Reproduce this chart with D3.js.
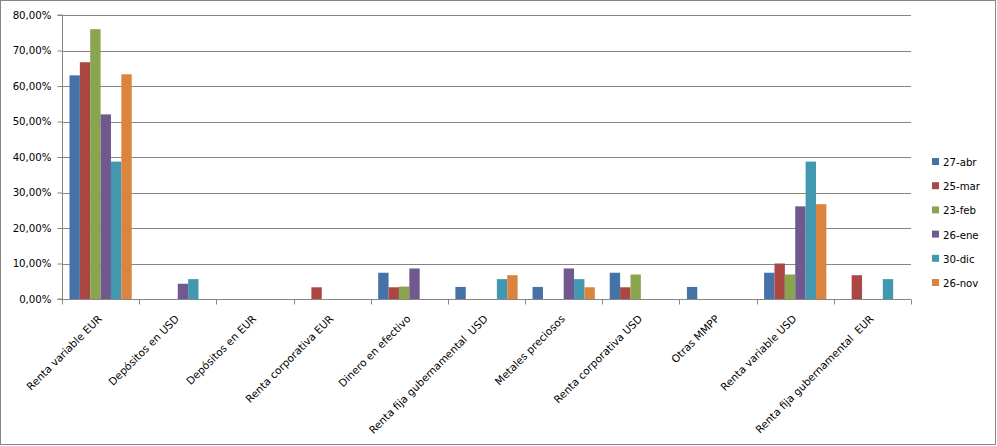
<!DOCTYPE html>
<html><head><meta charset="utf-8">
<script src="https://cdn.jsdelivr.net/npm/d3@7"></script>
<style>body{margin:0;background:#fff}svg{display:block}text{font-family:"DejaVu Sans",Verdana,sans-serif;fill:#000}</style>
</head><body><svg id="c" width="997" height="446"></svg>
<script>
const categories = ["Renta variable EUR","Depósitos en USD","Depósitos en EUR","Renta corporativa EUR","Dinero en efectivo","Renta fija gubernamental  USD","Metales preciosos","Renta corporativa USD","Otras MMPP","Renta variable USD","Renta fija gubernamental  EUR"];
const seriesNames = ["27-abr","25-mar","23-feb","26-ene","30-dic","26-nov"];
const s27abr = [63.0, 0, 0, 0, 7.4, 3.4, 3.4, 7.4, 3.4, 7.4, 0];
const s25mar = [66.7, 0, 0, 3.3, 3.3, 0, 0, 3.3, 0, 10.0, 6.7];
const s23feb = [76.0, 0, 0, 0, 3.5, 0, 0, 6.9, 0, 6.9, 0];
const s26ene = [52.0, 4.3, 0, 0, 8.6, 0, 8.6, 0, 0, 26.1, 0];
const s30dic = [38.7, 5.6, 0, 0, 0, 5.6, 5.6, 0, 0, 38.7, 5.6];
const s26nov = [63.3, 0, 0, 0, 0, 6.7, 3.3, 0, 0, 26.7, 0];
const yTicks = [0,10,20,30,40,50,60,70,80];
const colors = ["#4572A7","#AA4643","#89A54E","#71588F","#4198AF","#DB843D"];
const seriesVals = [s27abr,s25mar,s23feb,s26ene,s30dic,s26nov];

const svg = d3.select("#c");
svg.append("rect").attr("x",0.5).attr("y",0.5).attr("width",995).attr("height",444).attr("fill","#fff").attr("stroke","#868686");

const L=62, R=911, T=15, B=299;
const x = d3.scaleBand().domain(categories).range([L,R]).padding(0);
const xs = d3.scaleBand().domain(seriesNames).range([0,x.bandwidth()]).paddingOuter(0.72).paddingInner(0);
const y = d3.scaleLinear().domain([0,80]).range([B,T]);
const fmt = v => d3.format(".2f")(v).replace(".",",")+"%";

// gridlines
svg.append("g").selectAll("line").data(yTicks.filter(d=>d>0)).join("line")
  .attr("x1",L).attr("x2",R).attr("y1",d=>Math.round(y(d))+0.5).attr("y2",d=>Math.round(y(d))+0.5)
  .attr("stroke","#868686");

// bars
seriesNames.forEach((s,i)=>{
  svg.append("g").selectAll("rect").data(categories.map((c,j)=>({c,v:seriesVals[i][j]})).filter(d=>d.v>0)).join("rect")
    .attr("x",d=>x(d.c)+xs(s)).attr("width",xs.bandwidth())
    .attr("y",d=>y(d.v)).attr("height",d=>B-y(d.v)).attr("fill",colors[i]);
});

// y axis
const ya = svg.append("g").attr("transform",`translate(${L+0.5},0)`)
  .call(d3.axisLeft(y).tickValues(yTicks).tickFormat(fmt).tickSize(5).tickPadding(6));
ya.select(".domain").attr("stroke","#868686").attr("d",`M-5,${T}H0V${B}H-5`);
ya.selectAll(".tick line").attr("stroke","#868686");
ya.selectAll("text").style("font-size","10.2px").attr("fill","#000");

// x axis
const xa = svg.append("g").attr("transform",`translate(0,${B+0.5})`);
xa.append("line").attr("x1",L).attr("x2",R).attr("stroke","#868686");
xa.selectAll("line.t").data(categories.map(c=>x(c)).concat([R])).join("line").attr("class","t")
  .attr("x1",d=>Math.round(d)+0.5).attr("x2",d=>Math.round(d)+0.5).attr("y1",0).attr("y2",5).attr("stroke","#868686");
xa.selectAll("text").data(categories).join("text")
  .attr("transform",d=>`translate(${x(d)+x.bandwidth()/2+2},${20}) rotate(-45)`)
  .attr("text-anchor","end").style("font-size","10.5px").style("white-space","pre").text(d=>d);

// legend
const lg = svg.append("g").attr("transform","translate(932,162)");
seriesNames.forEach((s,i)=>{
  const g = lg.append("g").attr("transform",`translate(0,${i*24.2})`);
  g.append("rect").attr("x",0).attr("y",-4).attr("width",7).attr("height",7).attr("fill",colors[i]);
  g.append("text").attr("x",11).attr("y",4).style("font-size","10.2px").text(s);
});
</script></body></html>
